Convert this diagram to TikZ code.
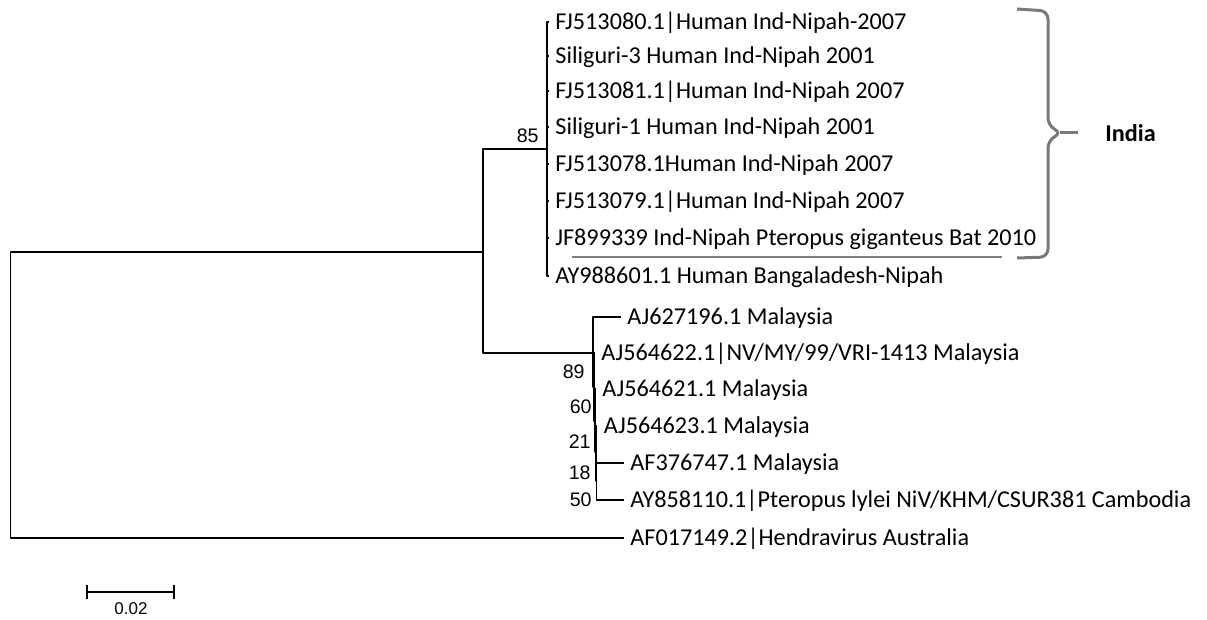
\documentclass[tikz,border=0pt]{standalone}
\usepackage{fontspec}
\setmainfont{Carlito}
\newfontfamily\arialfont{Liberation Sans}
\usepackage{tikz}
\usetikzlibrary{positioning,calc}

\tikzset{
  branch/.style={line width=0.65pt, line cap=rect},
  tip/.style={anchor=west, inner sep=3.5pt, font=\fontsize{12.1}{14}\selectfont, text height=7.8pt, text depth=0pt},
  boot/.style={anchor=east, inner sep=0pt, font=\arialfont\fontsize{9.8}{11}\selectfont, text height=7pt, text depth=0pt},
  clade/.style={draw=gray!95!black, line width=1.5pt, rounded corners=4pt}
}

\begin{document}
\begin{tikzpicture}[x=0.5pt, y=-0.5pt, line join=round]

\useasboundingbox (0,0) rectangle (1207,620);

% internal nodes
\coordinate (root) at (10.7,395);
\coordinate (nNip) at (483,252);
\coordinate (nInd) at (547,149);
\coordinate (nMalA) at (593,353);
\coordinate (nMalB) at (594,387);
\coordinate (nMalC) at (595,421);
\coordinate (nMalD) at (596,452);
\coordinate (nMalE) at (596.5,481);

% tips
\coordinate (tFJa) at (548,22);
\coordinate (tSiA) at (548,56);
\coordinate (tFJb) at (548,91);
\coordinate (tSiB) at (548,127);
\coordinate (tFJc) at (548,164);
\coordinate (tFJd) at (548,201);
\coordinate (tJF) at (548,238);
\coordinate (tAY) at (548,276);
\coordinate (tAJa) at (620,317);
\coordinate (tAJb) at (594,353);
\coordinate (tAJc) at (595,389);
\coordinate (tAJd) at (596.5,426);
\coordinate (tAF) at (623,463);
\coordinate (tAYm) at (623,500);
\coordinate (tHen) at (623,538);

% branches
\draw[branch] (root) |- (nNip);
\draw[branch] (root) |- (tHen);
\draw[branch] (nNip) |- (nInd);
\draw[branch] (nNip) |- (nMalA);
\foreach \t in {tFJa,tSiA,tFJb,tSiB,tFJc,tFJd,tJF,tAY}
  \draw[branch] (nInd) |- (\t);
\draw[branch] (nMalA) |- (tAJa);
\draw[branch] (nMalA) |- (nMalB);
\draw[branch] (nMalB) |- (tAJb);
\draw[branch] (nMalB) |- (nMalC);
\draw[branch] (nMalC) |- (tAJc);
\draw[branch] (nMalC) |- (nMalD);
\draw[branch] (nMalD) |- (tAJd);
\draw[branch] (nMalD) |- (nMalE);
\draw[branch] (nMalE) |- (tAF);
\draw[branch] (nMalE) |- (tAYm);

% tip labels
\node[tip] (lFJa) at (tFJa) {FJ513080.1|Human Ind-Nipah-2007};
\node[tip] (lSiA) at (tSiA) {Siliguri-3 Human Ind-Nipah 2001};
\node[tip] (lFJb) at (tFJb) {FJ513081.1|Human Ind-Nipah 2007};
\node[tip] (lSiB) at (tSiB) {Siliguri-1 Human Ind-Nipah 2001};
\node[tip] (lFJc) at (tFJc) {FJ513078.1Human Ind-Nipah 2007};
\node[tip] (lFJd) at (tFJd) {FJ513079.1|Human Ind-Nipah 2007};
\node[tip] (lJF) at (tJF) {JF899339 Ind-Nipah Pteropus giganteus Bat 2010};
\node[tip] (lAY) at (tAY) {AY988601.1 Human Bangaladesh-Nipah};
\node[tip] (lAJa) at (tAJa) {AJ627196.1 Malaysia};
\node[tip] (lAJb) at (tAJb) {AJ564622.1|NV/MY/99/VRI-1413 Malaysia};
\node[tip] (lAJc) at (tAJc) {AJ564621.1 Malaysia};
\node[tip] (lAJd) at (tAJd) {AJ564623.1 Malaysia};
\node[tip] (lAF) at (tAF) {AF376747.1 Malaysia};
\node[tip] (lAYm) at (tAYm) {AY858110.1|Pteropus lylei NiV/KHM/CSUR381 Cambodia};
\node[tip] (lHen) at (tHen) {AF017149.2|Hendravirus Australia};

% bootstrap values
\node[boot] (b85) at (539,136) {85};
\node[boot] (b89) at (585,372) {89};
\node[boot] (b60) at (592,407) {60};
\node[boot] (b21) at (591,442) {21};
\node[boot] (b18) at (591,473) {18};
\node[boot] (b50) at (592,500) {50};

% India clade mark
\draw[gray, line width=1pt] (572,257)--(1002,257);
\draw[clade] (1017,9)--(1048,11)--(1048,126)--(1062,133)--(1048,140)--(1048,257)--(1017,258);
\draw[clade, rounded corners=0pt] (1060,133)--(1078,133);
\node[anchor=west, inner sep=0pt, font=\bfseries\fontsize{12.1}{14}\selectfont] (india) at (1105,133) {India};

% scale bar
\coordinate (sbL) at (87,592);
\coordinate (sbR) at (174,592);
\draw[branch] (sbL)--(sbR);
\draw[branch] ($(sbL)+(0,-6)$)--($(sbL)+(0,6)$);
\draw[branch] ($(sbR)+(0,-6)$)--($(sbR)+(0,6)$);
\node[inner sep=0pt, font=\arialfont\fontsize{8.5}{10}\selectfont] (sblab) at (131,609) {0.02};

\end{tikzpicture}
\end{document}
